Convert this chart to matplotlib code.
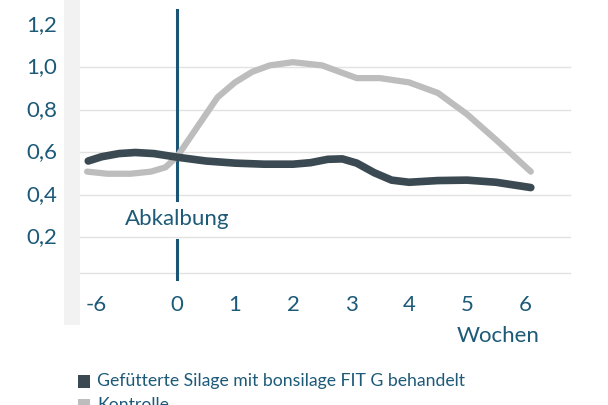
import matplotlib
matplotlib.use("Agg")
import matplotlib.pyplot as plt
from matplotlib.patches import Rectangle

weeks_labels = ["-6", "0", "1", "2", "3", "4", "5", "6"]
weeks_pos = [-1.4, 0, 1, 2, 3, 4, 5, 6]
y_ticks = [0.2, 0.4, 0.6, 0.8, 1.0, 1.2]
y_tick_labels = ["0,2", "0,4", "0,6", "0,8", "1,0", "1,2"]

fit_x = [-1.53, -1.3, -1.0, -0.72, -0.4, 0, 0.5, 1, 1.5, 2, 2.3, 2.6, 2.85, 3.1, 3.4, 3.7, 4, 4.5, 5, 5.5, 6.1]
fit_y = [0.56, 0.58, 0.595, 0.60, 0.595, 0.578, 0.56, 0.55, 0.545, 0.545, 0.552, 0.568, 0.57, 0.55, 0.505, 0.47, 0.46, 0.468, 0.47, 0.46, 0.435]
ktr_x = [-1.55, -1.2, -0.8, -0.45, -0.2, 0, 0.3, 0.7, 1, 1.3, 1.6, 2, 2.5, 2.8, 3.1, 3.5, 4, 4.5, 5, 5.5, 6.1]
ktr_y = [0.51, 0.50, 0.50, 0.51, 0.53, 0.58, 0.70, 0.86, 0.93, 0.98, 1.01, 1.025, 1.01, 0.98, 0.95, 0.95, 0.93, 0.88, 0.78, 0.66, 0.51]

teal = "#1c5a78"
dark = "#3b4a52"
light = "#bdbdbd"

fig = plt.figure(figsize=(6.08, 4.05), dpi=100)
ax = fig.add_axes([0, 0, 1, 1])
px = lambda p: (p - 177) / 58.0
py = lambda p: 1.2 - (p - 25) * 0.2 / 42.5
ax.set_xlim(px(0), px(608))
ax.set_ylim(py(405), py(0))
ax.axis("off")

ax.add_patch(Rectangle((px(64), py(325)), px(80) - px(64), py(0) - py(325), color="#f2f2f2", lw=0, zorder=0))

for yv in y_ticks[:-1] + [py(273)]:
    ax.plot([px(80), px(570)], [yv, yv], color="#e2e2e2", lw=1, zorder=1)
for yv, lab in zip(y_ticks, y_tick_labels):
    ax.text(px(57), yv, lab, color=teal, fontsize=16, ha="right", va="center", family="Lato")

ax.plot([0, 0], [py(10), py(200)], color="#1a5575", lw=2.2, zorder=3)
ax.plot([0, 0], [py(240), py(279)], color="#1a5575", lw=2.2, zorder=3)
ax.text(0, py(219), "Abkalbung", color=teal, fontsize=16, ha="center", va="center", family="Lato",
        bbox=dict(facecolor="white", edgecolor="none", pad=3), zorder=6)

ax.plot(ktr_x, ktr_y, color=light, lw=4.5, solid_capstyle="round", solid_joinstyle="round", zorder=4)
ax.plot(fit_x, fit_y, color=dark, lw=5.5, solid_capstyle="round", solid_joinstyle="round", zorder=5)

for xp, lab in zip(weeks_pos, weeks_labels):
    ax.text(xp, py(305), lab, color=teal, fontsize=16, ha="center", va="center", family="Lato")
ax.text(px(540), py(336), "Wochen", color=teal, fontsize=16, ha="right", va="center", family="Lato")

ax.add_patch(Rectangle((px(78), py(388)), px(90) - px(78), py(375) - py(388), color=dark, lw=0))
ax.text(px(97), py(381), "Gefütterte Silage mit bonsilage FIT G behandelt", color=teal, fontsize=12.7,
        ha="left", va="center", family="Lato")
ax.add_patch(Rectangle((px(78), py(412)), px(90) - px(78), py(399) - py(412), color=light, lw=0))
ax.text(px(97), py(405), "Kontrolle", color=teal, fontsize=12.7, ha="left", va="center", family="Lato")

fig.savefig("out.png", dpi=100)
